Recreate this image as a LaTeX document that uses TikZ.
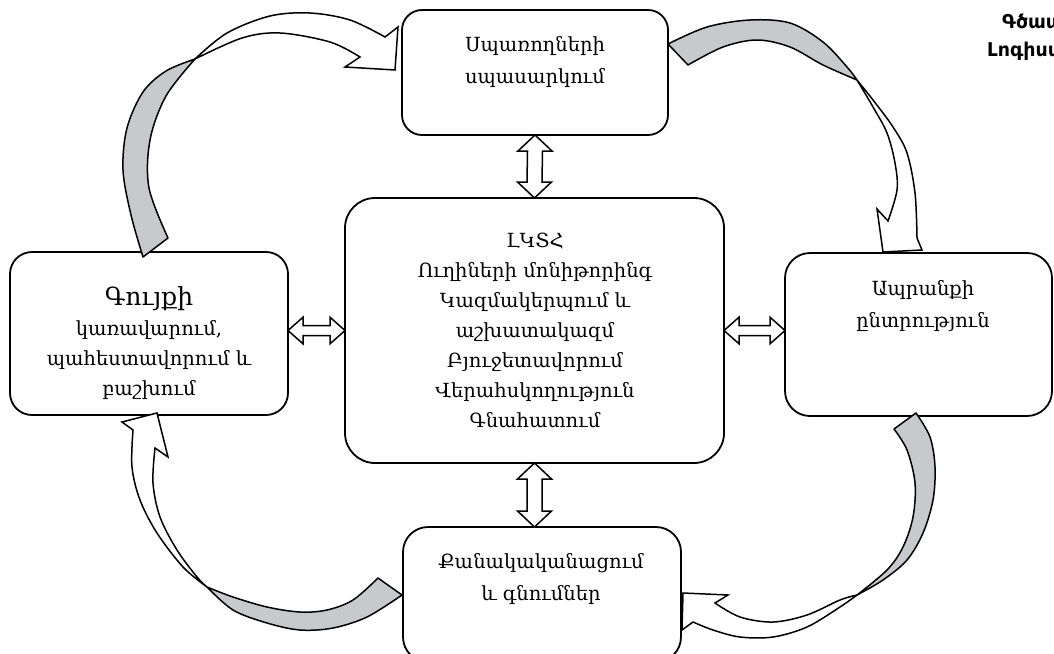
\documentclass[tikz,border=0pt]{standalone}
\usepackage{fontspec}
\setmainfont{DejaVu Serif}
\newfontfamily\titlefont{DejaVu Sans}
\usetikzlibrary{calc}
\definecolor{arrowgray}{RGB}{200,201,204}
\newcommand\vdbl[2]{\draw[dblarrow] (#1) -- ++(17,16) -- ++(-9.5,0) -- ($(#2)+(7.5,-16)$) -- ++(9.5,0) -- (#2) -- ++(-17,-16) -- ++(9.5,0) -- ($(#1)+(-7.5,16)$) -- ++(-9.5,0) -- cycle;}
\newcommand\hdbl[2]{\draw[dblarrow] (#1) -- ++(15,-13.3) -- ++(0,8.3) -- ($(#2)+(-15,-5)$) -- ++(0,-8.3) -- (#2) -- ++(-15,13.3) -- ++(0,-8.3) -- ($(#1)+(15,5)$) -- ++(0,8.3) -- cycle;}
\begin{document}
\begin{tikzpicture}[x=1pt,y=-1pt,
  box/.style={draw,line width=1.8pt,inner sep=0pt,outer sep=0pt},
  txt/.style={align=center,font=\fontsize{19.5}{32}\selectfont,inner sep=0pt},
  ctxt/.style={align=center,font=\fontsize{19.5}{30}\selectfont,inner sep=0pt},
  ttl/.style={anchor=base west,inner sep=0pt,font=\titlefont\bfseries\fontsize{19}{24}\selectfont},
  dblarrow/.style={draw,fill=white,line width=1.5pt,line join=miter},
  grayband/.style={draw,fill=arrowgray,line width=1.5pt,line join=round},
  whiteband/.style={draw,fill=white,line width=1.5pt,line join=miter},
  smoothp/.style={smooth,tension=0.55}]
\useasboundingbox (0,0) rectangle (1054,653);
\clip (0,0) rectangle (1054,653);
\fill[white] (0,0) rectangle (1054,653);

% boxes
\node[box,rounded corners=20pt,minimum width=266pt,minimum height=125pt] (T) at (535,72.5) {};
\node[box,rounded corners=30pt,minimum width=379pt,minimum height=265pt] (C) at (534.5,330.5) {};
\node[box,rounded corners=22pt,minimum width=278pt,minimum height=163pt] (L) at (149,333.5) {};
\node[box,rounded corners=25pt,minimum width=267pt,minimum height=163pt] (R) at (918.5,334.5) {};
\node[box,rounded corners=25pt,minimum width=278pt,minimum height=135pt] (B) at (542,594.5) {};

% texts
\node[txt] (tT) at (535,62) {Սպառողների\\սպասարկում};
\node[ctxt] (tC) at (535,330) {ԼԿՏՀ\\Ուղիների մոնիթորինգ\\Կազմակերպում և\\աշխատակազմ\\Բյուջետավորում\\Վերահսկողություն\\Գնահատում};
\node[ctxt] (tL) at (149,343) {{\fontsize{25}{32}\selectfont Գույքի}\\կառավարում,\\պահեստավորում և\\բաշխում};
\node[txt] (tR) at (923,306) {Ապրանքի\\ընտրություն};
\node[txt] (tB) at (541,579) {Քանակականացում\\և գնումներ};

\node[ttl] (title1) at (1002,28) {Գծապատկեր};
\node[ttl] (title2) at (987,56) {Լոգիստիկա};

% double arrows
\vdbl{T.south}{C.north}
\vdbl{C.south}{C.south |- B.north}
\hdbl{L.east |- C.west}{C.west}
\hdbl{C.east}{R.west |- C.east}

% curved arrow: left -> top
\draw[grayband] plot[smoothp] coordinates {(143,257) (131,215) (123,170) (127,128) (143,92) (166,71) (195,59)}
  -- plot[smoothp] coordinates {(195,59) (166,96) (150,140) (149,188) (168,238)} -- cycle;
\draw[whiteband] plot[smoothp] coordinates {(195,59) (227,33) (270,16) (310,13) (350,20) (385,37)}
  -- (398,27) -- (395,70) -- (345,67) -- (360,57)
  -- plot[smoothp] coordinates {(360,57) (330,42) (280,33) (242,38) (195,59)} -- cycle;

% curved arrow: top -> right
\draw[grayband] plot[smoothp] coordinates {(668,44) (707,27) (750,20) (790,23) (823,42) (847,67) (857,80)}
  -- plot[smoothp] coordinates {(857,80) (823,65) (790,47) (757,40) (723,47) (688,65)} -- cycle;
\draw[whiteband] plot[smoothp] coordinates {(857,80) (873,100) (893,127) (907,153) (915,193) (917,238)}
  -- (922,250) -- (883,252) -- (877,209) -- (888,221)
  -- plot[smoothp] coordinates {(888,221) (897,190) (895,163) (887,133) (873,107) (857,80)} -- cycle;

% curved arrow: right -> bottom
\draw[grayband] plot[smoothp] coordinates {(916,413) (930,437) (935,467) (933,500) (923,533) (907,560) (883,580) (857,595)}
  -- plot[smoothp] coordinates {(857,595) (887,570) (903,547) (913,517) (915,483) (907,450) (894,429)} -- cycle;
\draw[whiteband] plot[smoothp] coordinates {(857,595) (840,607) (807,627) (773,637) (740,637) (713,630) (693,622)}
  -- (682,630) -- (683,593) -- (728,595) -- (715,603)
  -- plot[smoothp] coordinates {(715,603) (740,617) (773,622) (807,615) (840,600) (857,595)} -- cycle;

% curved arrow: bottom -> left
\draw[grayband] plot[smoothp] coordinates {(402,595) (367,617) (333,628) (300,630) (267,623) (233,610) (207,587)}
  -- plot[smoothp] coordinates {(207,587) (233,597) (267,607) (300,612) (327,610) (353,600) (378,578)} -- cycle;
\draw[whiteband] plot[smoothp] coordinates {(207,587) (183,567) (157,533) (140,500) (132,467) (133,430)}
  -- (122,422) -- (157,413) -- (168,457) -- (155,448)
  -- plot[smoothp] coordinates {(155,448) (153,483) (160,517) (177,550) (197,577) (207,587)} -- cycle;
\end{tikzpicture}
\end{document}
